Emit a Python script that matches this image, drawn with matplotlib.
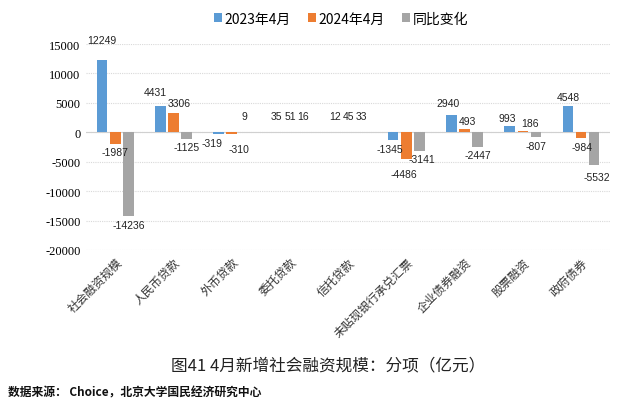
import matplotlib
matplotlib.use("Agg")
import matplotlib.pyplot as plt
import numpy as np

categories = ["社会融资规模", "人民币贷款", "外币贷款", "委托贷款", "信托贷款",
              "未贴现银行承兑汇票", "企业债券融资", "股票融资", "政府债券"]
apr2023 = [12249, 4431, -319, 35, 12, -1345, 2940, 993, 4548]
apr2024 = [-1987, 3306, -310, 51, 45, -4486, 493, 186, -984]
yoy = [-14236, -1125, 9, 16, 33, -3141, -2447, -807, -5532]
series_names = ["2023年4月", "2024年4月", "同比变化"]
yticks = [15000, 10000, 5000, 0, -5000, -10000, -15000, -20000]
title = "图41 4月新增社会融资规模：分项（亿元）"
source = "数据来源： Choice，北京大学国民经济研究中心"

colors = ["#5B9BD5", "#ED7D31", "#A5A5A5"]
cjk = ["Noto Sans CJK SC", "DejaVu Sans"]
serif = ["Liberation Serif", "Noto Sans CJK SC"]

fig = plt.figure(figsize=(6.2, 4.06), dpi=100)
ax = fig.add_axes([0.139, 0.382, 0.845, 0.507])

x = np.arange(len(categories))
w = 0.18
off = 0.225
data = [apr2023, apr2024, yoy]
for i, (vals, c, name) in enumerate(zip(data, colors, series_names)):
    ax.bar(x + (i - 1) * off, vals, width=w, color=c, label=name, zorder=3)

ax.set_ylim(-20000, 15000)
ax.set_xlim(-0.5, len(categories) - 0.5)
ax.set_yticks(yticks)
ax.set_yticklabels([str(v) for v in yticks], family=serif, fontsize=9)
for t in yticks:
    ax.axhline(t, color="#d9d9d9", lw=0.8, ls=(0, (1, 1)), zorder=1)
ax.axhline(0, color="#d0d0d0", lw=0.8, zorder=2)
ax.tick_params(axis="both", length=0, pad=4)
for s in ax.spines.values():
    s.set_visible(False)
ax.set_xticks(x)
ax.set_xticklabels(categories, rotation=45, ha="right", rotation_mode="anchor",
                   family=["Noto Sans CJK SC"], fontsize=8.5, color="#333333")

# manual label nudges (series index, category index) -> (dx in categories, dy in data units)
nudge = {
    (0, 1): (-0.08, 900), (1, 1): (0.1, 200),
    (0, 2): (-0.12, 0), (1, 2): (0.12, -1100),
    (0, 5): (-0.05, 0), (1, 5): (-0.05, -1200), (2, 5): (0.05, 0),
    (0, 6): (-0.05, 600), (1, 6): (0.05, 0),
    (0, 7): (-0.05, 0), (1, 7): (0.12, 0),
    (1, 8): (0.02, 0), (2, 8): (0.05, -600),
}

for i, vals in enumerate(data):
    for j, v in enumerate(vals):
        xp = j + (i - 1) * off
        if v >= 0:
            yp = v + 600
            va = "bottom"
        else:
            yp = v - 600
            va = "top"
        if j == 0 and i == 0:
            yp = 14800
        if j in (3, 4):
            yp = 2000
            va = "bottom"
        if j == 2 and i == 2:
            yp = 2000
            va = "bottom"
        dx, dy = nudge.get((i, j), (0, 0))
        ax.text(xp + dx, yp + dy, str(v), ha="center", va=va, fontsize=7.5,
                family=["Liberation Sans"], color="#222222", zorder=5)

leg = fig.legend(loc="upper center", bbox_to_anchor=(0.55, 1.0), ncol=3,
                 frameon=False, prop={"family": cjk, "size": 10},
                 handlelength=0.6, handleheight=0.6, handletextpad=0.2,
                 columnspacing=1.2)

fig.text(0.53, 0.098, title, ha="center", va="center", family=cjk, fontsize=12,
         color="#222222")
fig.text(0.013, 0.032, source, ha="left", va="center", family=cjk, fontsize=8.5,
         fontweight="bold", color="#111111")

fig.savefig("out.png", dpi=100)
